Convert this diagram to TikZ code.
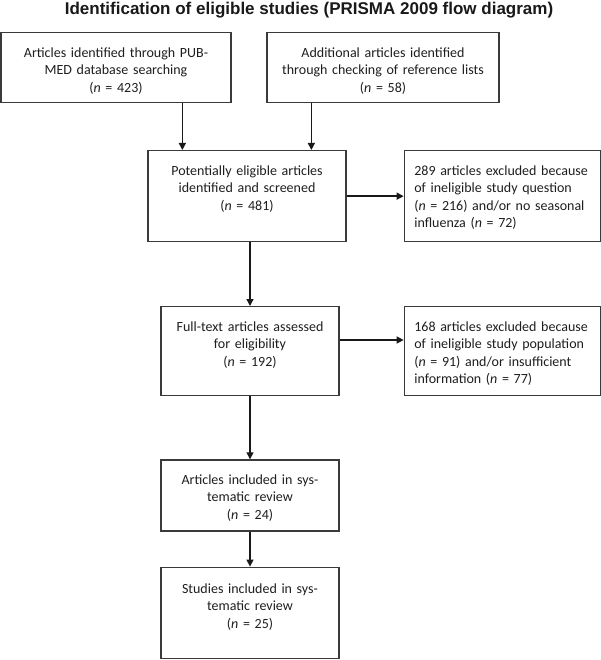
\documentclass[tikz,border=0pt]{standalone}
\usepackage{fontspec}
\usepackage{tikz}
\usetikzlibrary{arrows.meta,positioning,calc}
\newfontfamily\bodyfont{Carlito}
\newfontfamily\headfont{Liberation Sans}
\definecolor{prismaline}{HTML}{3A3A3A}
\definecolor{prismatext}{HTML}{1E1E1E}
\tikzset{
  flowbox/.style={draw=prismaline, line width=1.3pt, anchor=north, inner xsep=0pt, inner ysep=0pt, text width=#1, align=center, text height=24.5pt, font=\bodyfont\fontsize{14}{17.5}\selectfont, text=prismatext},
  exclbox/.style={flowbox=176pt, inner xsep=10pt, align=left},
  edge/.style={-{Triangle[length=7pt, width=7pt]}, line width=1.3pt, draw=black!90},
  headline/.style={font=\headfont\bfseries\fontsize{17}{20}\selectfont, anchor=base, text=black!90}
}

\begin{document}
\begin{tikzpicture}[x=1pt, y=-1pt]
  \useasboundingbox (0,0) rectangle (600,660);
  \node[headline] (title) at (309,15) {Identification of eligible studies (PRISMA 2009 flow diagram)};
  \node[flowbox=230pt, text depth=45.5pt] (pubmed) at (116,32) {Articles identified through PUB-\\MED database searching\\(\textit{n} = 423)};
  \node[flowbox=232pt, text depth=45.5pt] (reflists) at (383,32) {Additional articles identified\\through checking of reference lists\\(\textit{n} = 58)};
  \node[flowbox=198pt, text depth=66.5pt] (screened) at (247,150) {Potentially eligible articles\\identified and screened\\(\textit{n} = 481)};
  \node[exclbox, text depth=66.5pt, right=57pt of screened.north east, anchor=north west] (exclq) {289 articles excluded because\\of ineligible study question\\(\textit{n} = 216) and/or no seasonal\\influenza (\textit{n} = 72)};
  \node[flowbox=178pt, text depth=64.5pt] (fulltext) at (250,306) {Full-text articles assessed\\for eligibility\\(\textit{n} = 192)};
  \node[exclbox, text depth=64.5pt, right=64pt of fulltext.north east, anchor=north west] (exclpop) {168 articles excluded because\\of ineligible study population\\(\textit{n} = 91) and/or insufficient\\information (\textit{n} = 77)};
  \node[flowbox=178pt, text depth=46.5pt, below=63pt of fulltext] (artincl) {Articles included in sys-\\tematic review\\(\textit{n} = 24)};
  \node[flowbox=178pt, text height=26pt, text depth=65pt, below=35pt of artincl] (studincl) {Studies included in sys-\\tematic review\\(\textit{n} = 25)};
  % arrows
  \coordinate (inleft) at ([xshift=35pt]screened.north west);
  \coordinate (inright) at ([xshift=164pt]screened.north west);
  \draw[edge] (inleft |- pubmed.south) -- (inleft);
  \draw[edge] (inright |- reflists.south) -- (inright);
  \draw[edge] (screened) -- (exclq);
  \draw[edge] (fulltext.north |- screened.south) -- (fulltext);
  \draw[edge] ([yshift=-34pt]fulltext.north east) -- ([yshift=-34pt]exclpop.north west);
  \draw[edge] (fulltext) -- (artincl);
  \draw[edge] (artincl) -- (studincl);
\end{tikzpicture}
\end{document}
